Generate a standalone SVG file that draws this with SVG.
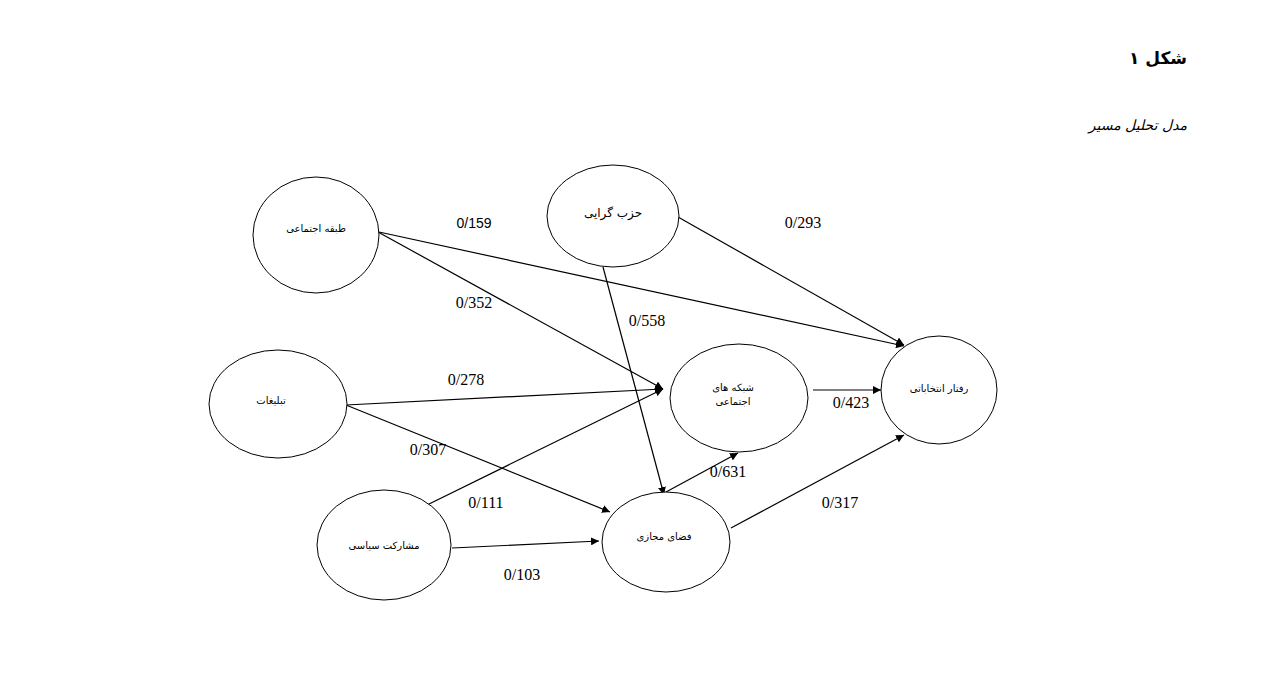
<svg xmlns="http://www.w3.org/2000/svg" width="1283" height="700" viewBox="0 0 1283 700">
<style>
.n{fill:#fff;stroke:#000;stroke-width:1}
.t{font-family:"DejaVu Sans",sans-serif;font-size:10px;fill:#000;text-anchor:middle}
.e{stroke:#000;stroke-width:1.2;fill:none;marker-end:url(#a)}
.l{font-family:"Liberation Serif",serif;font-size:16px;fill:#000;text-anchor:middle}
.ls{font-family:"Liberation Sans",sans-serif;font-size:14px;fill:#000;text-anchor:middle}
</style>
<defs>
<marker id="a" viewBox="0 0 10 10" refX="10" refY="5" markerWidth="8" markerHeight="8" markerUnits="userSpaceOnUse" orient="auto">
<path d="M0,0 L10,5 L0,10 z" fill="#000"/>
</marker>
</defs>
<rect width="1283" height="700" fill="#fff"/>
<text x="1187" y="64" direction="rtl" style="font-family:'DejaVu Sans',sans-serif;font-size:17px;font-weight:bold;text-anchor:start">شکل ۱</text>
<text x="1187" y="130" direction="rtl" style="font-family:'DejaVu Sans',sans-serif;font-size:14px;font-style:italic;text-anchor:start">مدل تحلیل مسیر</text>
<g id="edges">
<path class="e" d="M379,232 L904,346"/>
<path class="e" d="M378,232 L663,389"/>
<path class="e" d="M678,217 L904,345"/>
<path class="e" d="M603,267 L664,495"/>
<path class="e" d="M346,405 L663,389"/>
<path class="e" d="M346,405 L610,512"/>
<path class="e" d="M425,506 L663,389"/>
<path class="e" d="M452,548 L599,541"/>
<path class="e" d="M813,390 L881,390"/>
<path class="e" d="M666,492 L738,453"/>
<path class="e" d="M731,528 L904,435"/>
</g>
<g id="labels">
<text class="ls" x="474" y="228">0/159</text>
<text class="l" x="474" y="308">0/352</text>
<text class="l" x="647" y="326">0/558</text>
<text class="l" x="466" y="385">0/278</text>
<text class="l" x="428" y="455">0/307</text>
<text class="l" x="486" y="508">0/111</text>
<text class="l" x="522" y="580">0/103</text>
<text class="l" x="728" y="477">0/631</text>
<text class="l" x="851" y="408">0/423</text>
<text class="l" x="803" y="228">0/293</text>
<text class="l" x="840" y="508">0/317</text>
</g>
<g id="n1"><ellipse class="n" cx="316" cy="235" rx="63" ry="58"/><text class="t" x="316" y="232" direction="rtl">طبقه اجتماعی</text></g>
<g id="n2"><ellipse class="n" cx="613" cy="216" rx="66" ry="51"/><text class="t" x="613" y="217" direction="rtl" style="font-size:12px">حزب گرایی</text></g>
<g id="n3"><ellipse class="n" cx="278" cy="404" rx="69" ry="54"/><text class="t" x="271" y="404" direction="rtl">تبلیغات</text></g>
<g id="n4"><ellipse class="n" cx="384" cy="545" rx="67" ry="55"/><text class="t" x="384" y="549" direction="rtl">مشارکت سیاسی</text></g>
<g id="n5"><ellipse class="n" cx="739" cy="398" rx="69" ry="54"/><text class="t" x="733" y="391" direction="rtl">شبکه های</text><text class="t" x="733" y="405" direction="rtl">اجتماعی</text></g>
<g id="n6"><ellipse class="n" cx="939" cy="390" rx="58" ry="54"/><text class="t" x="939" y="392" direction="rtl">رفتار انتخاباتی</text></g>
<g id="n7"><ellipse class="n" cx="666" cy="542" rx="64" ry="50"/><text class="t" x="664" y="540" direction="rtl">فضای مجازی</text></g>
</svg>
